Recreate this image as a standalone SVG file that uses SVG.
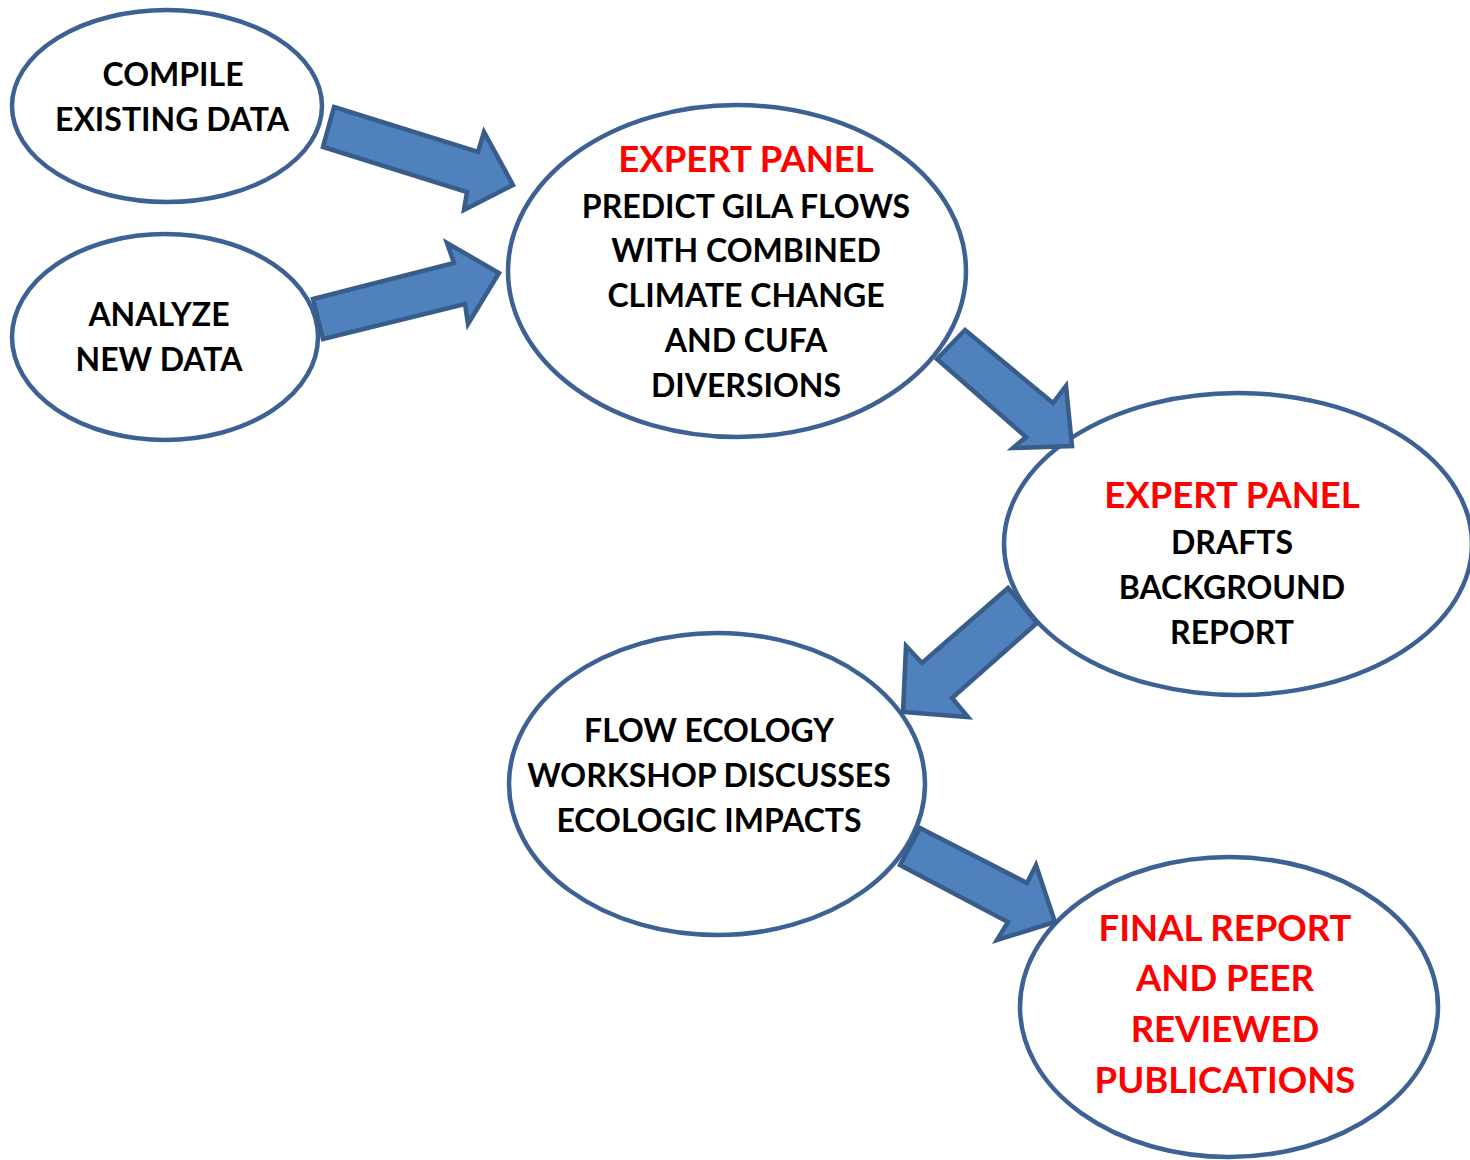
<svg xmlns="http://www.w3.org/2000/svg" width="1470" height="1160" viewBox="0 0 1470 1160">
<style>
.node ellipse{fill:#fff;stroke:#3C6192;stroke-width:4.5}
.arrow{fill:#4F81BD;stroke:#385D8A;stroke-width:4.5;stroke-linejoin:miter}
text{font-family:Lato,"Open Sans","Liberation Sans",sans-serif;font-weight:bold;text-anchor:middle}
.b{font-size:32px;fill:#000}
.r{font-size:36.5px;fill:#FF0000}
</style>
<rect width="1470" height="1160" fill="#fff"/>
<g id="compile" class="node">
<ellipse cx="167" cy="106" rx="155" ry="96"/>
<text class="b" x="173" y="86">COMPILE</text>
<text class="b" x="172" y="131">EXISTING DATA</text>
</g>
<g id="analyze" class="node">
<ellipse cx="165" cy="337" rx="153" ry="103"/>
<text class="b" x="159" y="326">ANALYZE</text>
<text class="b" x="159" y="371">NEW DATA</text>
</g>
<g id="panel1" class="node">
<ellipse cx="737" cy="271" rx="229" ry="166"/>
<text class="r" x="746" y="172">EXPERT PANEL</text>
<text class="b" x="746" y="218">PREDICT GILA FLOWS</text>
<text class="b" x="746" y="262">WITH COMBINED</text>
<text class="b" x="746" y="307">CLIMATE CHANGE</text>
<text class="b" x="746" y="352">AND CUFA</text>
<text class="b" x="746" y="397">DIVERSIONS</text>
</g>
<g id="panel2" class="node">
<ellipse cx="1238" cy="544" rx="234" ry="151"/>
<text class="r" x="1232" y="508">EXPERT PANEL</text>
<text class="b" x="1232" y="554">DRAFTS</text>
<text class="b" x="1232" y="599">BACKGROUND</text>
<text class="b" x="1232" y="644">REPORT</text>
</g>
<g id="workshop" class="node">
<ellipse cx="717" cy="784" rx="208" ry="151"/>
<text class="b" x="709" y="742">FLOW ECOLOGY</text>
<text class="b" x="709" y="787">WORKSHOP DISCUSSES</text>
<text class="b" x="709" y="832">ECOLOGIC IMPACTS</text>
</g>
<g id="final" class="node">
<ellipse cx="1229" cy="1007" rx="209" ry="150"/>
<text class="r" x="1225" y="941">FINAL REPORT</text>
<text class="r" x="1225" y="991">AND PEER</text>
<text class="r" x="1225" y="1042">REVIEWED</text>
<text class="r" x="1225" y="1093">PUBLICATIONS</text>
</g>
<g id="connectors">
<polygon class="arrow" points="334,107 478,152 484,132 513,185 464,210 467,192 323,147"/>
<polygon class="arrow" points="313,299 454,263 447,243 499,273 468,324 465,304 323,339"/>
<polygon class="arrow" points="965,330 1053,403 1066,386 1072,446 1013,448 1026,437 937,359"/>
<polygon class="arrow" points="1008,588 1037,623 952,698 968,717 903,712 906,646 922,663"/>
<polygon class="arrow" points="920,828 1027,883 1036,865 1055,922 997,940 1008,922 900,865"/>
</g>
</svg>
